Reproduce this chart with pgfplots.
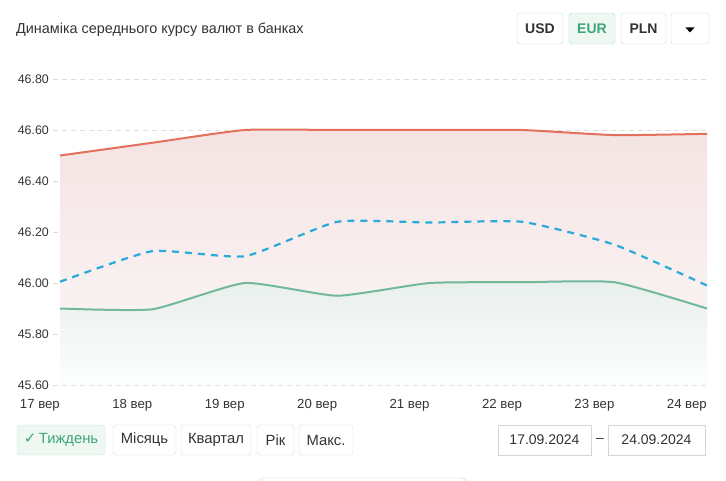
\documentclass[border=0pt]{standalone}
\usepackage{fontspec}
\setmainfont{Liberation Sans}
\newfontfamily\symfont{DejaVu Sans}
\usepackage{pgfplots}
\pgfplotsset{compat=1.18}
\definecolor{redline}{HTML}{E2705C}
\definecolor{blueline}{HTML}{2AA9DA}
\definecolor{greenline}{HTML}{72B99C}
\definecolor{redfill}{HTML}{F5E3E3}
\definecolor{redfillb}{HTML}{FBF8F8}
\definecolor{greenfill}{HTML}{E8EFED}
\definecolor{greenfillb}{HTML}{FDFEFE}
\definecolor{txt}{HTML}{333333}
\definecolor{btnborder}{HTML}{D5D5D5}
\definecolor{gtext}{HTML}{3DA57C}
\definecolor{gfill}{HTML}{EFF7F3}
\definecolor{gborder}{HTML}{A9D8C3}
\definecolor{gridc}{HTML}{DDDDDD}
\begin{document}
\begin{tikzpicture}
\begin{scope}[x=1pt,y=-1pt]
\useasboundingbox (0,0) rectangle (726,481);
\node[anchor=west, text=txt, font=\fontsize{14.4}{16}\selectfont, inner sep=0] at (16,29.5) {Динаміка середнього курсу валют в банках};
% top buttons
\draw[rounded corners=3pt, draw=btnborder, fill=white] (517,13) rectangle (563,44);
\node[font=\bfseries\fontsize{14}{16}\selectfont, text=txt] at (540,28.5) {USD};
\draw[rounded corners=3pt, draw=gborder, fill=gfill] (569,13) rectangle (615,44);
\node[font=\bfseries\fontsize{14}{16}\selectfont, text=gtext] at (592,28.5) {EUR};
\draw[rounded corners=3pt, draw=btnborder, fill=white] (621,13) rectangle (666,44);
\node[font=\bfseries\fontsize{14}{16}\selectfont, text=txt] at (643.5,28.5) {PLN};
\draw[rounded corners=3pt, draw=btnborder, fill=white] (671,13) rectangle (709,44);
\fill[black] (685.5,27.5) -- (694.5,27.5) -- (690,32.5) -- cycle;
% bottom buttons
\draw[rounded corners=3pt, draw=gborder!70, fill=gfill] (17,425) rectangle (105,455);
\node[font=\fontsize{14.8}{16}\selectfont, text=gtext] at (61,440) {{\symfont\fontsize{15}{16}\selectfont ✓}\,Тиждень};
\draw[rounded corners=3pt, draw=btnborder, fill=white] (113,425) rectangle (176,455);
\node[font=\fontsize{14.8}{16}\selectfont, text=txt] at (144.5,440) {Місяць};
\draw[rounded corners=3pt, draw=btnborder, fill=white] (181,425) rectangle (251,455);
\node[font=\fontsize{14.8}{16}\selectfont, text=txt] at (216,440) {Квартал};
\draw[rounded corners=3pt, draw=btnborder, fill=white] (257,425) rectangle (294,455);
\node[font=\fontsize{14.8}{16}\selectfont, text=txt] at (275.5,440) {Рік};
\draw[rounded corners=3pt, draw=btnborder, fill=white] (299,425) rectangle (353,455);
\node[font=\fontsize{14.8}{16}\selectfont, text=txt] at (326,440) {Макс.};
\draw[draw=btnborder, fill=white] (498,425) rectangle (591,455);
\node[font=\fontsize{14}{16}\selectfont, text=txt] at (544.5,440) {17.09.2024};
\node[font=\fontsize{14}{16}\selectfont, text=txt] at (600,440) {–};
\draw[draw=btnborder, fill=white] (608,425) rectangle (705,455);
\node[font=\fontsize{14}{16}\selectfont, text=txt] at (656.5,440) {24.09.2024};
\draw[rounded corners=10pt, draw=btnborder, fill=white] (255,478) rectangle (470,510);
\end{scope}
\begin{axis}[
  at={(53pt,-385pt)}, anchor=south west,
  width=654pt, height=306pt, scale only axis,
  xmin=-0.076, xmax=7, ymin=45.6, ymax=46.8,
  axis line style={draw=none},
  major tick length=0pt,
  xtick={0,...,7},
  xticklabels={17 вер,18 вер,19 вер,20 вер,21 вер,22 вер,23 вер,24 вер},
  xticklabel style={anchor=north east, inner sep=0pt, yshift=-14.5pt, text=txt, font=\fontsize{13.2}{15}\selectfont},
  ytick={45.6,45.8,46.0,46.2,46.4,46.6,46.8},
  /pgf/number format/fixed, /pgf/number format/fixed zerofill, /pgf/number format/precision=2, /pgf/number format/assume math mode=true,
  yticklabel style={anchor=east, inner sep=0pt, xshift=-4pt, text=txt, font=\fontsize{12.4}{14}\selectfont},
  ymajorgrids, major grid style={gridc, dashed, dash pattern=on 5pt off 4pt, line width=0.8pt},
  clip=false,
]
\addplot[draw=none, top color=redfill, bottom color=redfillb, smooth, tension=0.3]
  coordinates {(0,46.50) (1,46.55) (2,46.60) (3,46.60) (4,46.60) (5,46.60) (6,46.58) (7,46.585)}
  -- (axis cs:7,45.6) -- (axis cs:0,45.6) -- cycle;
\addplot[draw=none, top color=greenfill, bottom color=greenfillb, smooth, tension=0.3]
  coordinates {(0,45.90) (1,45.897) (2,46.00) (3,45.95) (4,46.00) (5,46.003) (6,46.003) (7,45.90)}
  -- (axis cs:7,45.6) -- (axis cs:0,45.6) -- cycle;
\addplot[redline, line width=2pt, smooth, tension=0.3]
  coordinates {(0,46.50) (1,46.55) (2,46.60) (3,46.60) (4,46.60) (5,46.60) (6,46.58) (7,46.585)};
\addplot[greenline, line width=2pt, smooth, tension=0.3]
  coordinates {(0,45.90) (1,45.897) (2,46.00) (3,45.95) (4,46.00) (5,46.003) (6,46.003) (7,45.90)};
\addplot[blueline, line width=2.2pt, dash pattern=on 7pt off 6pt, smooth, tension=0.3]
  coordinates {(0,46.005) (1,46.125) (2,46.105) (3,46.24) (4,46.237) (5,46.24) (6,46.15) (7,45.99)};
\end{axis}
\end{tikzpicture}
\end{document}
